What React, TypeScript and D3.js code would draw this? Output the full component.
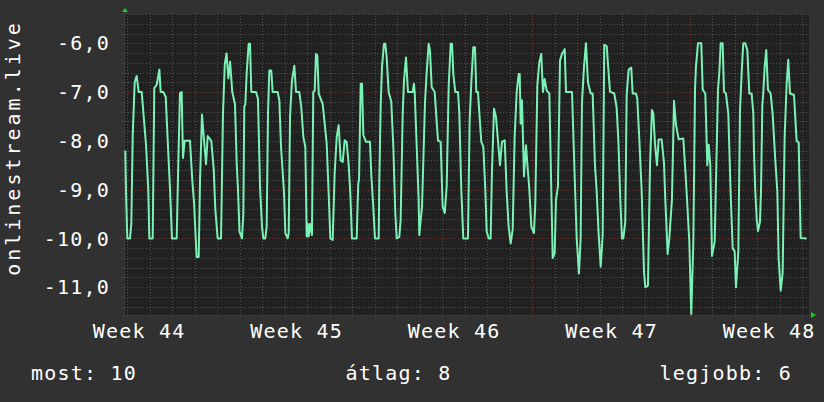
import React from "react";
import * as d3 from "d3";

// ---- data -------------------------------------------------------------
const startTime = Date.UTC(2023, 10, 1, 20, 30); // left edge of the graph
const spanHours = 730.7; // width of the graph in hours

const sampleHours = [
  1.4, 2.1, 3.5, 6.4, 7.8, 9.3, 11.4, 13.5, 15.7, 18.9, 21.0, 23.5, 25.9, 27.0, 30.6, 32.3, 34.9, 37.7, 39.1, 41.9,
  44.5, 46.6, 49.1, 51.2, 56.2, 57.6, 59.7, 61.5, 62.9, 64.7, 70.4, 72.9, 74.7, 76.5, 77.5, 79.7, 81.1, 83.2, 85.0, 87.5,
  89.3, 93.1, 95.7, 97.4, 99.9, 103.5, 105.6, 107.5, 109.4, 111.3, 113.2, 115.5, 118.4, 120.2, 121.6, 123.2, 125.9, 127.3, 128.3, 129.4,
  130.9, 133.0, 134.4, 135.8, 140.8, 142.9, 145.1, 147.2, 148.6, 150.7, 152.2, 153.6, 155.0, 157.1, 158.6, 163.9, 165.7, 167.5, 170.7, 172.1,
  174.6, 175.7, 177.1, 179.2, 181.7, 183.5, 187.0, 189.1, 191.3, 193.4, 194.9, 195.9, 197.0, 198.4, 200.5, 201.9, 203.4, 204.8, 206.2, 207.7,
  211.9, 214.1, 216.2, 218.3, 220.1, 222.6, 224.7, 226.9, 229.0, 231.1, 233.3, 235.4, 237.5, 239.7, 241.4, 243.2, 248.2, 248.9, 249.9, 250.7,
  252.5, 253.9, 255.3, 258.1, 262.4, 263.8, 265.9, 267.7, 271.7, 272.3, 273.8, 275.2, 277.3, 278.7, 280.2, 282.3, 285.1, 287.3, 289.4, 290.9,
  293.7, 295.1, 297.3, 298.7, 300.8, 302.9, 307.9, 309.3, 310.1, 312.2, 314.3, 315.0, 316.5, 317.9, 321.1, 322.9, 325.0, 326.4, 328.2, 331.4,
  334.9, 337.8, 339.9, 342.1, 344.2, 346.3, 348.5, 349.9, 351.3, 353.4, 356.3, 357.7, 359.8, 361.9, 366.9, 368.7, 370.5, 372.6, 374.4, 375.8,
  377.6, 379.0, 381.1, 383.3, 385.4, 386.9, 389.0, 391.1, 392.5, 394.7, 396.8, 398.9, 401.1, 403.2, 406.1, 408.2, 410.3, 412.5, 414.6, 416.7,
  418.9, 421.0, 422.1, 423.1, 424.5, 426.7, 428.8, 430.2, 432.3, 434.5, 437.3, 438.7, 440.9, 443.0, 445.1, 446.9, 448.7, 450.9, 453.7, 455.8,
  457.3, 459.4, 460.8, 462.9, 465.1, 467.2, 470.1, 471.5, 477.9, 479.3, 481.1, 482.9, 485.3, 487.1, 488.5, 490.7, 492.8, 494.9, 497.8, 499.9,
  502.4, 504.2, 506.3, 508.5, 510.6, 512.3, 514.9, 518.4, 523.0, 525.5, 527.3, 529.4, 531.2, 532.6, 534.7, 536.2, 538.3, 541.1, 542.6, 546.1,
  547.5, 549.7, 552.2, 554.7, 556.1, 558.9, 561.1, 563.2, 564.6, 566.4, 568.5, 570.3, 573.5, 576.0, 577.4, 579.2, 579.9, 581.7, 584.5, 586.7,
  588.8, 591.7, 596.6, 598.7, 600.9, 603.0, 605.1, 607.3, 609.1, 610.1, 612.3, 615.8, 617.3, 620.1, 622.2, 623.7, 625.4, 627.2, 630.1, 633.6,
  635.0, 636.5, 638.6, 640.0, 642.1, 644.6, 647.1, 649.3, 651.4, 652.8, 655.3, 657.1, 659.2, 660.6, 662.7, 664.9, 667.0, 669.5, 671.3, 672.0,
  673.4, 674.9, 676.3, 678.4, 679.5, 680.9, 681.9, 683.4, 685.1, 686.9, 689.8, 691.9, 694.7, 696.9, 698.3, 700.5, 702.6, 704.7, 706.9, 708.6,
  710.4, 714.7, 717.5, 719.7, 721.8, 728.2,
];

const sampleValues = [
  -8.2, -9.0, -10, -10, -9.7, -7.9, -6.8, -6.67, -7.0, -7.0, -7.5, -8.08, -9.0, -10, -10, -6.92, -6.85, -6.54, -7, -7,
  -7.1, -7.98, -9.0, -10, -10, -8.73, -7.02, -7.0, -8.35, -8.0, -8.0, -8.83, -9.26, -10, -10.38, -10.38, -8.8, -7.46, -7.9, -8.48,
  -7.9, -8.0, -8.58, -9.4, -10, -10, -7.43, -6.43, -6.21, -6.72, -6.38, -7.0, -7.25, -8.45, -9.0, -9.86, -10, -9.5, -7.3, -7.25,
  -6.6, -6.01, -6.01, -7, -7, -7.14, -8.94, -9.76, -10, -10, -9.76, -7.44, -6.56, -6.56, -7.0, -7.0, -7.17, -8.12, -9.07, -9.89,
  -10, -9.89, -7.5, -6.76, -6.46, -7, -7, -7.31, -7.92, -8.12, -9.96, -9.7, -9.96, -9.7, -9.93, -7.0, -6.97, -6.22, -6.25, -7.03,
  -7.24, -7.65, -8.05, -9.07, -10, -10.03, -8.67, -7.92, -7.68, -8.4, -8.43, -7.99, -8.02, -8.5, -9.07, -10, -10, -9.5, -8.87, -8.8,
  -6.83, -6.83, -7.88, -8.02, -8.02, -8.7, -9.35, -10, -10, -8.87, -7.27, -6.49, -6.01, -6.01, -6.29, -7, -7.2, -8.12, -9.48, -10,
  -9.97, -9.62, -7.44, -6.76, -6.29, -7, -7, -6.83, -7, -8.09, -9.21, -9.93, -9.62, -9.35, -7.2, -6.59, -6.01, -6.15, -6.9, -7,
  -7.99, -8.02, -9.35, -9.48, -8.94, -6.9, -6.01, -6.01, -6.63, -7, -7, -7.44, -9.0, -10, -10, -7.58, -6.8, -6.08, -6.08, -7,
  -7, -7.41, -8.02, -8.12, -9.0, -9.86, -10, -10, -8.63, -7.34, -7.51, -7.99, -8.5, -8.02, -7.99, -9.04, -9.76, -10.1, -9.82, -7.92,
  -7, -6.63, -6.63, -7.65, -7.17, -8.73, -8.09, -8.46, -8.97, -9.76, -9.89, -9.31, -6.86, -6.39, -6.22, -7.0, -6.73, -6.97, -7.03, -9.0,
  -10.4, -10.3, -9.21, -8.94, -6.35, -6.22, -6.12, -7, -7, -7.85, -8.94, -10.0, -10.72, -10.0, -7.22, -6.48, -6.0, -6.8, -7.03, -7.03,
  -8.5, -9.03, -9.9, -10.58, -9.93, -6.03, -6.06, -6.99, -7.03, -7.32, -7.97, -9.2, -10, -10, -9.66, -7.06, -6.54, -6.5, -7.03, -7.03,
  -7.13, -7.97, -9.03, -10.69, -11.0, -10.97, -8.5, -7.37, -7.43, -8.06, -8.5, -7.97, -7.97, -8.45, -9.2, -10, -10.32, -10, -9.2, -7.18,
  -7.67, -7.97, -7.95, -8.58, -9.3, -10.06, -11.55, -10.1, -6.95, -6.48, -6.0, -6.0, -6.95, -7.03, -8.5, -8.08, -8.5, -10.36, -10.06, -6.95,
  -6.61, -6.0, -6.0, -6.99, -7.03, -7.44, -9.06, -10.2, -10.27, -11.0, -10.27, -7.37, -6.48, -6.0, -6.0, -6.14, -7.03, -7.03, -7.44, -8.2,
  -9.03, -9.6, -9.85, -9.66, -9.03, -7.27, -7.03, -6.48, -6.14, -6.95, -7.03, -7.44, -8.38, -9.03, -10.4, -11.07, -10.7, -7.92, -6.82, -6.34,
  -7.03, -7.06, -8.0, -8.03, -9.99, -10,
];

const yDomain = [-11.59, -5.4];
const yTicks = [-6, -7, -8, -9, -10, -11];
const yMinorStep = 0.2;
const yAxisTitle = "onlinestream.live";
const legendLabels = ["most", "átlag", "legjobb"];
const legendValues = [10, 8, 6];

// ---- layout / style ---------------------------------------------------
const W = 824;
const H = 402;
const P = { left: 124, right: 809, top: 14, bottom: 316 };
const BG = "#313131";
const PLOT_BG = "#212121";
const MINOR = "#535353";
const MAJOR = "#7a3434";
const LINE = "#7af2b6";
const ARROW = "#19d119";
const TEXT = "#ffffff";
const FONT = "'DejaVu Sans Mono', monospace";

const fmt = d3
  .formatLocale({ decimal: ",", thousands: " ", grouping: [3], currency: ["", ""], minus: "-" })
  .format(".1f");
const weekFmt = d3.utcFormat("%V");

export default function App() {
  const t0 = new Date(startTime);
  const t1 = new Date(startTime + spanHours * 3600e3);
  const x = d3.scaleUtc().domain([t0, t1]).range([P.left, P.right]);
  const y = d3.scaleLinear().domain(yDomain).range([P.bottom, P.top]);

  const pts: [number, number][] = sampleHours.map((h, i) => [h, sampleValues[i]]);
  const line = d3
    .line<[number, number]>()
    .x((d) => x(new Date(startTime + d[0] * 3600e3)))
    .y((d) => y(d[1]));

  const minorY: number[] = [];
  for (let i = Math.ceil(yDomain[0] / yMinorStep - 1e-6); i <= Math.floor(yDomain[1] / yMinorStep + 1e-6); i++) {
    const v = i * yMinorStep;
    if (Math.abs(v - Math.round(v)) > 1e-6) minorY.push(v);
  }
  const days = d3.utcDay.range(t0, t1);
  const minorX = days.filter((d) => d.getUTCDay() !== 1);
  const majorX = days.filter((d) => d.getUTCDay() === 1);
  const weekStarts = d3.utcMonday.range(d3.utcMonday.floor(t0), t1);

  const px = (v: number) => Math.round(v) + 0.5;
  const gx0 = P.left - 2;
  const gx1 = P.right + 2;
  const gy0 = P.top - 1;
  const gy1 = P.bottom + 2;

  return (
    <svg
      width={W}
      height={H}
      style={{ position: "absolute", left: 0, top: 0, display: "block" }}
      fontFamily={FONT}
    >
      <rect x={0} y={0} width={W} height={H} fill={BG} />
      <rect x={P.left} y={P.top} width={P.right - P.left} height={P.bottom - P.top} fill={PLOT_BG} />

      {/* minor grid */}
      <g stroke={MINOR} strokeWidth={1} strokeDasharray="1,2" shapeRendering="crispEdges">
        {minorY.map((v, i) => (
          <line key={"my" + i} x1={gx0} x2={gx1} y1={px(y(v))} y2={px(y(v))} />
        ))}
        {minorX.map((d, i) => (
          <line key={"mx" + i} x1={px(x(d))} x2={px(x(d))} y1={gy0} y2={gy1} />
        ))}
      </g>
      {/* major grid */}
      <g stroke={MAJOR} strokeWidth={1} strokeDasharray="1,2" shapeRendering="crispEdges">
        {yTicks.map((v, i) => (
          <line key={"My" + i} x1={gx0} x2={gx1} y1={px(y(v))} y2={px(y(v))} />
        ))}
        {majorX.map((d, i) => (
          <line key={"Mx" + i} x1={px(x(d))} x2={px(x(d))} y1={gy0} y2={gy1} />
        ))}
      </g>

      {/* axes */}
      <g stroke="#3d3d3d" strokeWidth={1} shapeRendering="crispEdges">
        <line x1={P.left + 0.5} x2={P.left + 0.5} y1={P.top - 4} y2={P.bottom + 2} />
        <line x1={P.left - 2} x2={P.right + 3} y1={P.bottom - 0.5} y2={P.bottom - 0.5} />
      </g>
      <path
        d={`M${P.left - 2},${P.top - 2}L${P.left + 1},${P.top - 6}L${P.left + 4},${P.top - 2}Z`}
        fill={ARROW}
      />
      <path
        d={`M${P.right + 2},${P.bottom - 4}L${P.right + 7},${P.bottom - 1}L${P.right + 2},${P.bottom + 2}Z`}
        fill={ARROW}
      />

      {/* data line */}
      <path d={line(pts) || ""} fill="none" stroke={LINE} strokeWidth={2} strokeLinejoin="round" />

      {/* y tick labels */}
      <g fill={TEXT} fontSize={20} letterSpacing={1.2} textAnchor="end">
        {yTicks.map((v, i) => (
          <text key={"yl" + i} x={110} y={y(v)} dy="0.36em">
            {fmt(v)}
          </text>
        ))}
      </g>

      {/* week labels */}
      <g fill={TEXT} fontSize={20} letterSpacing={1.2} textAnchor="middle">
        {weekStarts.map((d, i) => (
          <text key={"wl" + i} x={x(new Date(d.getTime() + 3.5 * 864e5)) + 0.6} y={338}>
            {"Week " + weekFmt(new Date(d.getTime() + 3 * 864e5))}
          </text>
        ))}
      </g>

      {/* y axis title */}
      <text
        transform={`translate(20,${(P.top + P.bottom) / 2 - 17}) rotate(-90)`}
        textAnchor="middle"
        fill={TEXT}
        fontSize={20}
        letterSpacing={3}
      >
        {yAxisTitle}
      </text>

      {/* legend */}
      <g fill={TEXT} fontSize={20} letterSpacing={1.2}>
        {legendLabels.map((l, i) => (
          <text
            key={"lg" + i}
            x={[31, 398.5, 792][i]}
            y={380}
            textAnchor={["start", "middle", "end"][i]}
          >
            {`${l}: ${legendValues[i]}`}
          </text>
        ))}
      </g>
    </svg>
  );
}
